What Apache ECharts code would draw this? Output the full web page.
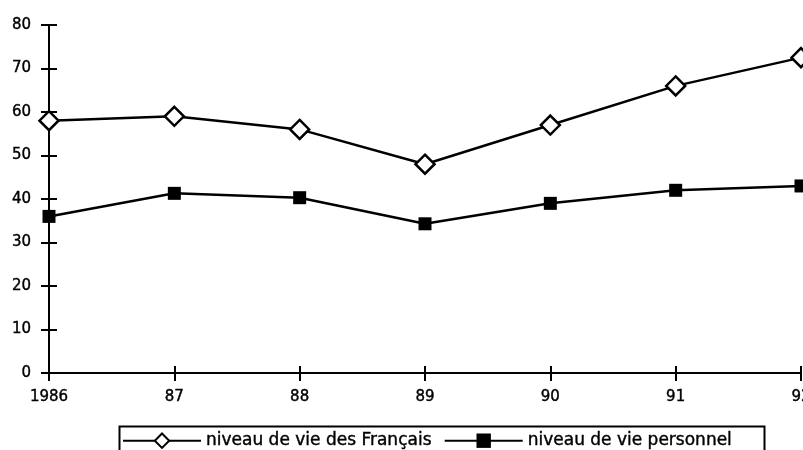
<!DOCTYPE html>
<html>
<head>
<meta charset="utf-8">
<script src="https://cdn.jsdelivr.net/npm/echarts@6/dist/echarts.min.js"></script>
<style>
  html, body { margin: 0; padding: 0; background: #fff; overflow: hidden; }
  #main { width: 803px; height: 450px; }
</style>
</head>
<body>
<div id="main"></div>
<script>
// categories (years)
var years = ['1986', '87', '88', '89', '90', '91', '92'];
// niveau de vie des Français
var francais = [58, 59, 56, 48, 57, 66, 72.5];
// niveau de vie personnel
var personnel = [36, 41.3, 40.3, 34.3, 39, 42, 43];

var FONT = 'DejaVu Sans';
var INK = '#000';

var chart = echarts.init(document.getElementById('main'));

chart.setOption({
    animation: false,
    backgroundColor: '#fff',
    grid: {
        left: 49,
        right: 2,
        top: 25,
        bottom: 77,
        outerBoundsMode: 'none'   // let the "92" label run off the edge like the scan
    },
    legend: {
        left: 117,
        top: 427,
        itemWidth: 78,
        itemHeight: 18,
        itemGap: 12,
        textStyle: {
            fontFamily: FONT, fontSize: 17, color: INK,
            textBorderColor: INK, textBorderWidth: 0.4
        },
        data: ['niveau de vie des Français', 'niveau de vie personnel']
    },
    // legend frame (cut by the bottom edge as in the scan)
    graphic: [{
        type: 'rect',
        left: 117,
        top: 424,
        shape: { width: 645, height: 40 },
        style: { fill: 'none', stroke: INK, lineWidth: 2 }
    }],
    xAxis: [
        {
            type: 'category',
            data: years,
            boundaryGap: false,
            axisLine: { lineStyle: { color: INK, width: 2 } },
            axisTick: { alignWithLabel: true, length: 8, lineStyle: { color: INK, width: 2 } },
            axisLabel: {
                fontFamily: FONT, fontSize: 15, color: INK, margin: 17,
                textBorderColor: INK, textBorderWidth: 0.4
            },
            splitLine: { show: false }
        },
        {   // inner half of the crossing ticks
            type: 'category',
            data: years,
            boundaryGap: false,
            position: 'bottom',
            axisLine: { show: false },
            axisTick: { inside: true, length: 7, lineStyle: { color: INK, width: 2 } },
            axisLabel: { show: false },
            splitLine: { show: false }
        }
    ],
    yAxis: [
        {
            type: 'value',
            min: 0,
            max: 80,
            interval: 10,
            axisLine: { show: true, lineStyle: { color: INK, width: 2 } },
            axisTick: { show: true, length: 8, lineStyle: { color: INK, width: 2 } },
            axisLabel: {
                fontFamily: FONT, fontSize: 15, color: INK, margin: 18,
                textBorderColor: INK, textBorderWidth: 0.4
            },
            splitLine: { show: false }
        },
        {   // inner half of the crossing ticks
            type: 'value',
            min: 0,
            max: 80,
            interval: 10,
            position: 'left',
            axisLine: { show: false },
            axisTick: { show: true, inside: true, length: 8, lineStyle: { color: INK, width: 2 } },
            axisLabel: { show: false },
            splitLine: { show: false }
        }
    ],
    series: [
        {
            name: 'niveau de vie des Français',
            type: 'line',
            data: francais,
            symbol: 'diamond',
            symbolSize: 19,
            color: INK,
            lineStyle: { color: INK, width: 2.5 },
            itemStyle: { color: '#fff', borderColor: INK, borderWidth: 2.5 },
            z: 3
        },
        {
            name: 'niveau de vie personnel',
            type: 'line',
            data: personnel,
            symbol: 'rect',
            symbolSize: 13,
            color: INK,
            lineStyle: { color: INK, width: 2.5 },
            itemStyle: { color: INK, borderColor: INK, borderWidth: 0 },
            z: 2
        }
    ]
});
</script>
</body>
</html>
